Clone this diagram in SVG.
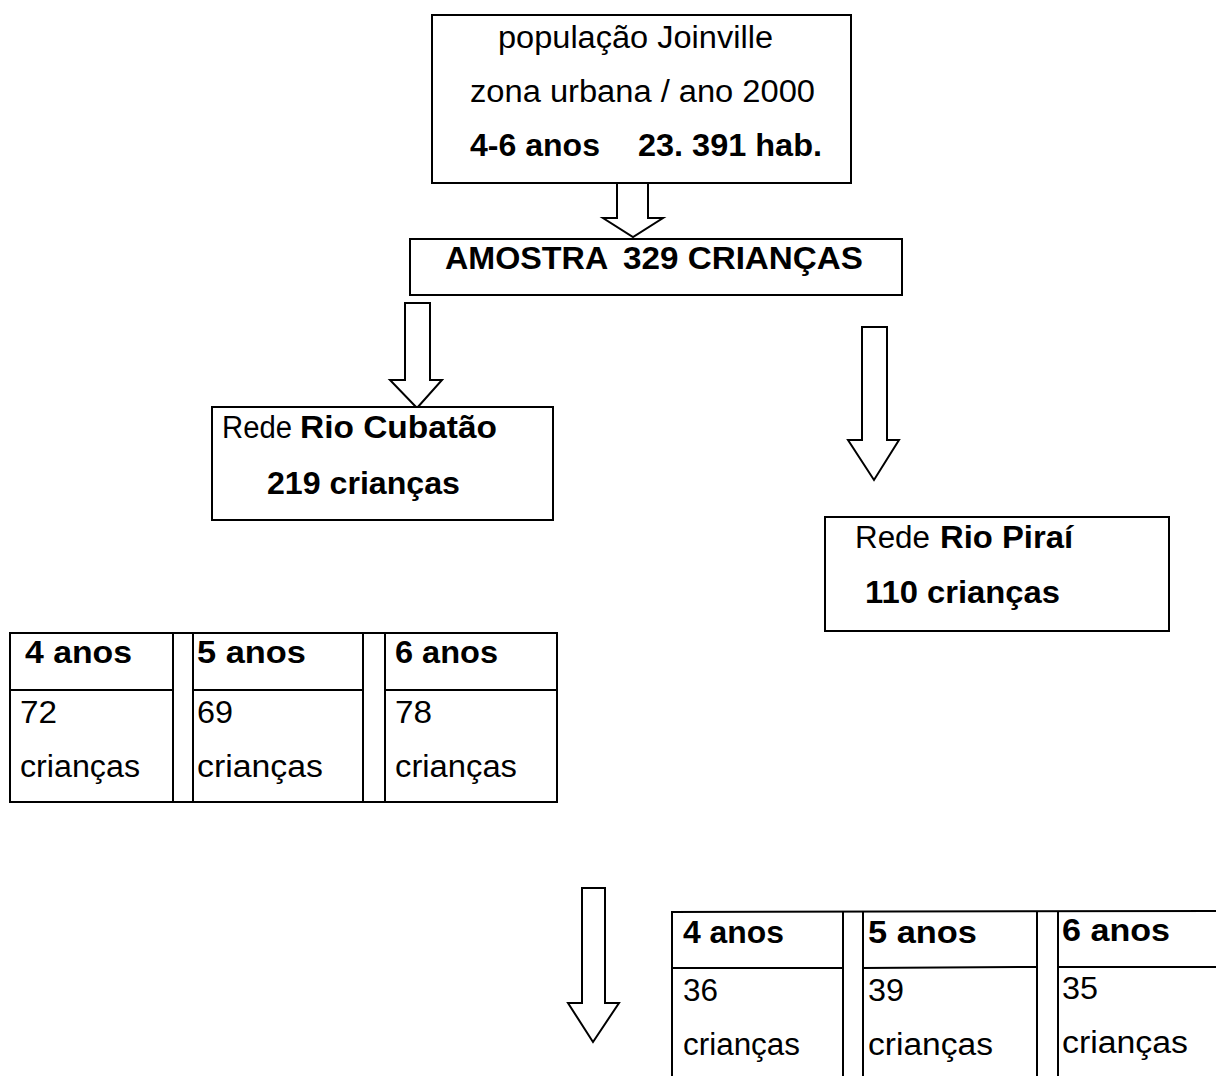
<svg xmlns="http://www.w3.org/2000/svg" width="1216" height="1076" viewBox="0 0 1216 1076">
<style>
  .box { fill: #fff; stroke: #000; stroke-width: 2; }
  .ln { stroke: #000; stroke-width: 2; fill: none; }
  .arrow { fill: #fff; stroke: #000; stroke-width: 2; stroke-linejoin: miter; }
  text { font-family: "Liberation Sans", Arial, sans-serif; font-size: 31px; fill: #000; }
  .b { font-weight: bold; }
</style>
<rect width="1216" height="1076" fill="#fff"/>

<g id="connectors">
  <polygon class="arrow" points="617,183 648,183 648,218 663,218 633,237 603,218 617,218"/>
  <polygon class="arrow" points="405,303 430,303 430,380 442,380 417,408 390,380 405,380"/>
  <polygon class="arrow" points="862,327 887,327 887,440 899,440 874,480 848,440 862,440"/>
  <polygon class="arrow" points="582,888 605,888 605,1003 619,1003 593,1042 568,1003 582,1003"/>
</g>

<g id="populacao">
  <rect class="box" x="432" y="15" width="419" height="168"/>
  <text x="498" y="48" textLength="275" lengthAdjust="spacingAndGlyphs">população Joinville</text>
  <text x="470" y="102" textLength="345" lengthAdjust="spacingAndGlyphs">zona urbana / ano 2000</text>
  <text class="b" y="156"><tspan x="470" textLength="130" lengthAdjust="spacingAndGlyphs">4-6 anos</tspan> <tspan x="638" textLength="184" lengthAdjust="spacingAndGlyphs">23. 391 hab.</tspan></text>
</g>

<g id="amostra">
  <rect class="box" x="410" y="239" width="492" height="56"/>
  <text class="b" y="269"><tspan x="445" textLength="162" lengthAdjust="spacingAndGlyphs">AMOSTRA</tspan> <tspan x="623" textLength="240" lengthAdjust="spacingAndGlyphs">329 CRIANÇAS</tspan></text>
</g>

<g id="rio-cubatao">
  <rect class="box" x="212" y="407" width="341" height="113"/>
  <text y="438"><tspan x="222" textLength="70" lengthAdjust="spacingAndGlyphs">Rede</tspan> <tspan class="b" x="300" textLength="197" lengthAdjust="spacingAndGlyphs">Rio Cubatão</tspan></text>
  <text class="b" x="267" y="494" textLength="193" lengthAdjust="spacingAndGlyphs">219 crianças</text>
</g>

<g id="rio-pirai">
  <rect class="box" x="825" y="517" width="344" height="114"/>
  <text y="548"><tspan x="855" textLength="75" lengthAdjust="spacingAndGlyphs">Rede</tspan> <tspan class="b" x="940" textLength="133" lengthAdjust="spacingAndGlyphs">Rio Piraí</tspan></text>
  <text class="b" x="865" y="603" textLength="195" lengthAdjust="spacingAndGlyphs">110 crianças</text>
</g>

<g id="tabela-cubatao">
  <rect class="box" x="10" y="633" width="547" height="169"/>
  <line class="ln" x1="173" y1="633" x2="173" y2="802"/>
  <line class="ln" x1="193" y1="633" x2="193" y2="802"/>
  <line class="ln" x1="363" y1="633" x2="363" y2="802"/>
  <line class="ln" x1="385" y1="633" x2="385" y2="802"/>
  <line class="ln" x1="10" y1="690" x2="173" y2="690"/>
  <line class="ln" x1="193" y1="690" x2="363" y2="690"/>
  <line class="ln" x1="385" y1="690" x2="557" y2="690"/>
  <text class="b" x="25" y="663" textLength="107" lengthAdjust="spacingAndGlyphs">4 anos</text>
  <text class="b" x="197" y="663" textLength="109" lengthAdjust="spacingAndGlyphs">5 anos</text>
  <text class="b" x="395" y="663" textLength="103" lengthAdjust="spacingAndGlyphs">6 anos</text>
  <text x="20" y="723" textLength="37" lengthAdjust="spacingAndGlyphs">72</text>
  <text x="197" y="723" textLength="36" lengthAdjust="spacingAndGlyphs">69</text>
  <text x="395" y="723" textLength="37" lengthAdjust="spacingAndGlyphs">78</text>
  <text x="20" y="777" textLength="120" lengthAdjust="spacingAndGlyphs">crianças</text>
  <text x="197" y="777" textLength="126" lengthAdjust="spacingAndGlyphs">crianças</text>
  <text x="395" y="777" textLength="122" lengthAdjust="spacingAndGlyphs">crianças</text>
</g>

<g id="tabela-pirai">
  <line class="ln" x1="671" y1="912" x2="1218" y2="911"/>
  <line class="ln" x1="672" y1="968" x2="843" y2="968"/>
  <line class="ln" x1="863" y1="968" x2="1037" y2="967"/>
  <line class="ln" x1="1058" y1="967" x2="1218" y2="967"/>
  <line class="ln" x1="672" y1="912" x2="672" y2="1078"/>
  <line class="ln" x1="843" y1="912" x2="843" y2="1078"/>
  <line class="ln" x1="863" y1="912" x2="863" y2="1078"/>
  <line class="ln" x1="1037" y1="911" x2="1037" y2="1078"/>
  <line class="ln" x1="1058" y1="911" x2="1058" y2="1078"/>
  <text class="b" x="683" y="943" textLength="101" lengthAdjust="spacingAndGlyphs">4 anos</text>
  <text class="b" x="868" y="943" textLength="109" lengthAdjust="spacingAndGlyphs">5 anos</text>
  <text class="b" x="1062" y="941" textLength="108" lengthAdjust="spacingAndGlyphs">6 anos</text>
  <text x="683" y="1001" textLength="35" lengthAdjust="spacingAndGlyphs">36</text>
  <text x="868" y="1001" textLength="36" lengthAdjust="spacingAndGlyphs">39</text>
  <text x="1062" y="999" textLength="36" lengthAdjust="spacingAndGlyphs">35</text>
  <text x="683" y="1055" textLength="117" lengthAdjust="spacingAndGlyphs">crianças</text>
  <text x="868" y="1055" textLength="125" lengthAdjust="spacingAndGlyphs">crianças</text>
  <text x="1062" y="1053" textLength="126" lengthAdjust="spacingAndGlyphs">crianças</text>
</g>
</svg>
